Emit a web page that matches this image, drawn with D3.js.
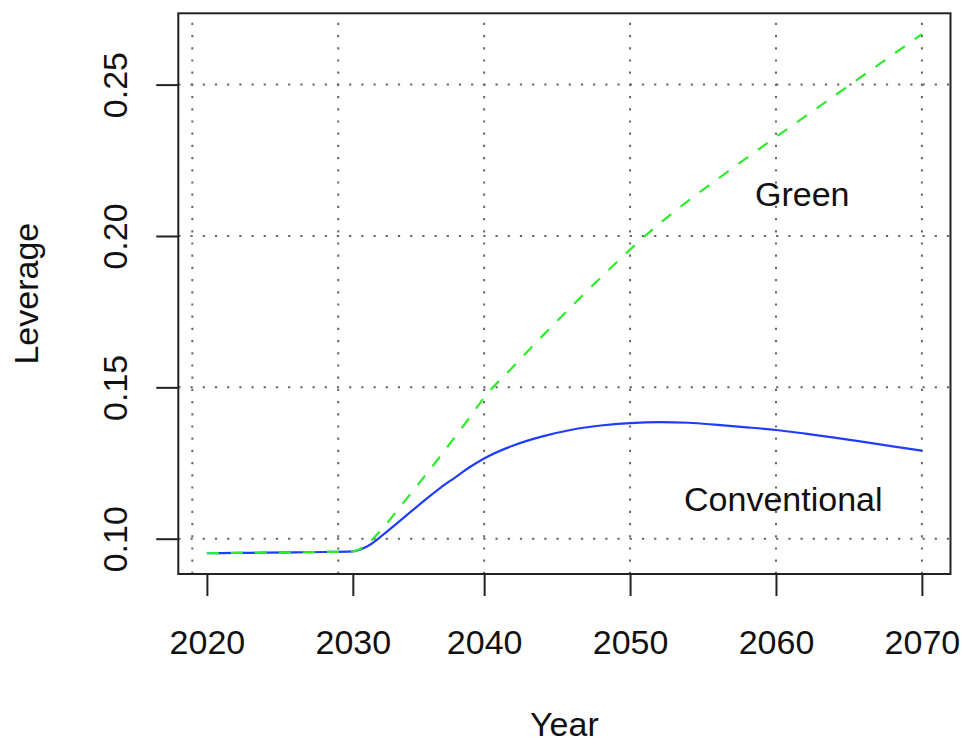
<!DOCTYPE html>
<html>
<head>
<meta charset="utf-8">
<script src="https://d3js.org/d3.v7.min.js"></script>
<style>
  body { margin: 0; background: #fff; }
  text { font-family: "Liberation Sans", Arial, sans-serif; fill: #111; }
</style>
</head>
<body>
<svg width="963" height="745"></svg>
<script>
// model period (1 = 2020 ... 50 = 2070)
var period = [1, 3, 5, 7, 9, 11, 12, 13, 14, 15, 16, 17, 18, 19, 20, 22, 24, 26, 28, 30, 32, 34, 36, 38, 40, 42, 44, 46, 48, 50];

var conventional = [0.0952, 0.0953, 0.0954, 0.0955, 0.0956, 0.0958, 0.0975, 0.1010, 0.1050, 0.1090, 0.1130, 0.1168, 0.1202, 0.1236, 0.1265,
    0.1308, 0.1338, 0.1360, 0.1374, 0.1382, 0.1385, 0.1383, 0.1376, 0.1368, 0.1359, 0.1347, 0.1334, 0.1320, 0.1305, 0.1291];

var green = [0.0952, 0.0953, 0.0954, 0.0955, 0.0956, 0.0958, 0.0983, 0.1032, 0.1091, 0.1151, 0.1211, 0.1273, 0.1336, 0.1400, 0.1466,
    0.1569, 0.1670, 0.1768, 0.1863, 0.1955, 0.2040, 0.2117, 0.2188, 0.2258, 0.2327, 0.2395, 0.2463, 0.2531, 0.2599, 0.2667];

var tickAt = [1, 11, 20, 30, 40, 50];
var tickLabels = ["2020", "2030", "2040", "2050", "2060", "2070"];
var gridX = [0, 10, 20, 30, 40, 50];
var yTicks = [0.10, 0.15, 0.20, 0.25];

var svg = d3.select("svg"),
    margin = { top: 13.3, right: 12.5, bottom: 171, left: 178.3 },
    width = +svg.attr("width") - margin.left - margin.right,
    height = +svg.attr("height") - margin.top - margin.bottom;

// R style axis range: data range padded by 4% on each side
function pad(ext) {
    var d = (ext[1] - ext[0]) * 0.04;
    return [ext[0] - d, ext[1] + d];
}

var x = d3.scaleLinear().domain(pad(d3.extent(period))).range([0, width]);
var y = d3.scaleLinear().domain(pad([d3.min(conventional.concat(green)), d3.max(conventional.concat(green))])).range([height, 0]);

var g = svg.append("g")
    .attr("transform", "translate(" + margin.left + "," + margin.top + ")");

// dotted grid
var grid = g.append("g").attr("class", "grid")
    .attr("stroke", "#666")
    .attr("stroke-width", 2)
    .attr("stroke-dasharray", "2.2,10");

grid.selectAll(".gv").data(gridX).enter().append("line")
    .attr("x1", function(d) { return x(d); })
    .attr("x2", function(d) { return x(d); })
    .attr("y1", height)
    .attr("y2", 0);

grid.selectAll(".gh").data(yTicks).enter().append("line")
    .attr("y1", function(d) { return y(d); })
    .attr("y2", function(d) { return y(d); })
    .attr("x1", 0)
    .attr("x2", width);

var line = d3.line()
    .x(function(d) { return x(d[0]); })
    .y(function(d) { return y(d[1]); })
    .curve(d3.curveMonotoneX);

g.append("path")
    .datum(d3.zip(period, conventional))
    .attr("fill", "none")
    .attr("stroke", "#1f3dff")
    .attr("stroke-width", 2.2)
    .attr("d", line);

g.append("path")
    .datum(d3.zip(period, green))
    .attr("fill", "none")
    .attr("stroke", "#2cec2c")
    .attr("stroke-width", 2.2)
    .attr("stroke-dasharray", "12,12")
    .attr("d", line);

// axes
var xAxis = g.append("g")
    .attr("transform", "translate(0," + height + ")")
    .call(d3.axisBottom(x).tickValues(tickAt).tickSize(22).tickPadding(34)
        .tickFormat(function(d, i) { return tickLabels[i]; }));

var yAxis = g.append("g")
    .call(d3.axisLeft(y).tickValues(yTicks).tickSize(22).tickFormat(d3.format(".2f")));

[xAxis, yAxis].forEach(function(a) {
    a.select(".domain").remove();
    a.selectAll(".tick line").attr("stroke", "#222").attr("stroke-width", 2);
    a.selectAll(".tick text").attr("font-size", 34).attr("fill", "#111")
        .style("font-family", "'Liberation Sans', Arial, sans-serif");
});

yAxis.selectAll(".tick text")
    .attr("transform", "rotate(-90)")
    .attr("x", 0)
    .attr("y", -51)
    .attr("dy", 0)
    .attr("text-anchor", "middle");

// plot box
g.append("rect")
    .attr("width", width)
    .attr("height", height)
    .attr("fill", "none")
    .attr("stroke", "#222")
    .attr("stroke-width", 2);

// series labels
g.append("text").attr("x", x(41.8)).attr("y", y(0.2139)).attr("dy", "0.36em")
    .attr("text-anchor", "middle").attr("font-size", 34).text("Green");
g.append("text").attr("x", x(40.5)).attr("y", y(0.1132)).attr("dy", "0.36em")
    .attr("text-anchor", "middle").attr("font-size", 34).text("Conventional");

// axis titles
svg.append("text")
    .attr("x", margin.left + width / 2)
    .attr("y", 736)
    .attr("text-anchor", "middle")
    .attr("font-size", 34)
    .text("Year");

svg.append("text")
    .attr("transform", "translate(38," + (margin.top + height / 2) + ") rotate(-90)")
    .attr("text-anchor", "middle")
    .attr("font-size", 34)
    .text("Leverage");
</script>
</body>
</html>
